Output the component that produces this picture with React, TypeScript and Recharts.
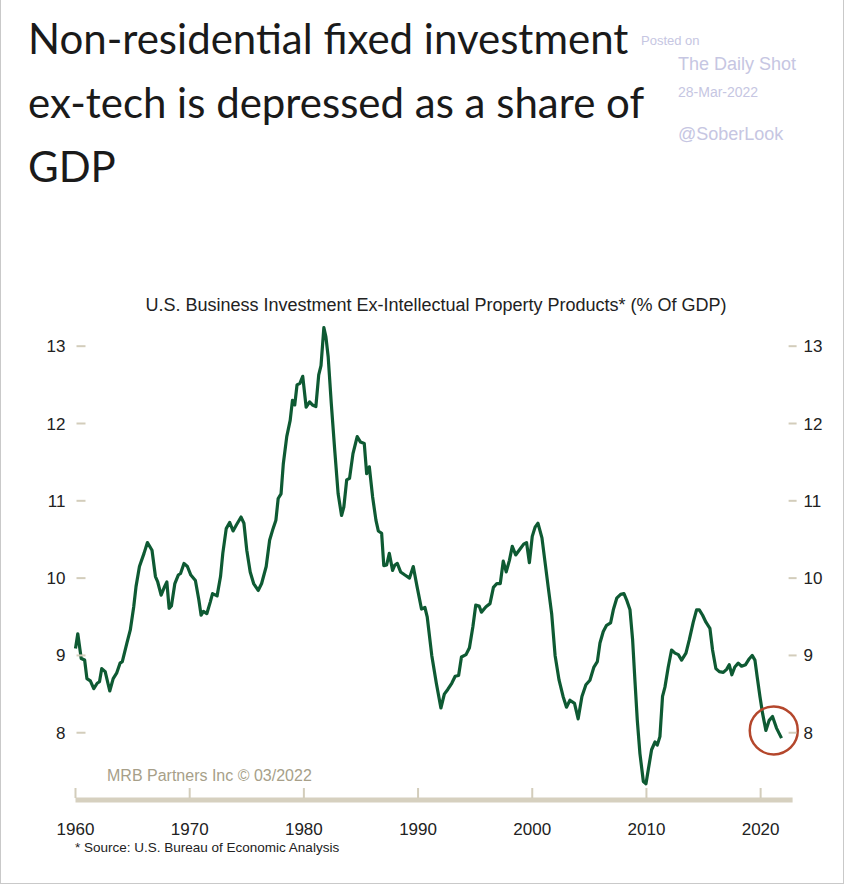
import React from "react";
import { LineChart, Line, XAxis, YAxis, ReferenceDot } from "recharts";

// U.S. business investment ex-IPP, % of GDP
const years = [
  1960.0, 1960.2, 1960.5, 1960.8, 1961.0, 1961.3, 1961.6, 1961.9,
  1962.1, 1962.3, 1962.6, 1963.0, 1963.3, 1963.6, 1963.9, 1964.1,
  1964.5, 1964.8, 1965.1, 1965.3, 1965.6, 1966.0, 1966.3, 1966.7,
  1967.0, 1967.2, 1967.5, 1967.8, 1968.0, 1968.2, 1968.4, 1968.7,
  1969.0, 1969.2, 1969.5, 1969.8, 1970.1, 1970.5, 1970.8, 1971.0,
  1971.2, 1971.5, 1971.8, 1972.0, 1972.4, 1972.7, 1972.9, 1973.2,
  1973.5, 1973.8, 1974.1, 1974.5, 1974.75, 1975.0, 1975.3, 1975.6,
  1976.0, 1976.3, 1976.7, 1977.0, 1977.3, 1977.55, 1977.75, 1978.0,
  1978.2, 1978.5, 1978.8, 1979.0, 1979.2, 1979.4, 1979.65, 1979.9,
  1980.2, 1980.5, 1980.75, 1981.05, 1981.3, 1981.5, 1981.75, 1981.93,
  1982.13, 1982.4, 1982.7, 1983.0, 1983.3, 1983.5, 1983.75, 1984.0,
  1984.3, 1984.67, 1984.96, 1985.29, 1985.5, 1985.73, 1986.02, 1986.31,
  1986.52, 1986.81, 1987.0, 1987.25, 1987.48, 1987.77, 1987.97, 1988.18,
  1988.47, 1988.85, 1989.25, 1989.58, 1989.9, 1990.3, 1990.6, 1990.8,
  1991.2, 1991.6, 1992.0, 1992.3, 1992.6, 1992.95, 1993.25, 1993.55,
  1993.8, 1994.2, 1994.5, 1994.8, 1995.05, 1995.35, 1995.55, 1995.95,
  1996.3, 1996.6, 1996.9, 1997.2, 1997.46, 1997.72, 1998.0, 1998.25,
  1998.55, 1998.9, 1999.25, 1999.5, 1999.75, 2000.0, 2000.25, 2000.5,
  2000.85, 2001.1, 2001.4, 2001.7, 2002.0, 2002.35, 2002.7, 2003.0,
  2003.3, 2003.7, 2004.02, 2004.35, 2004.7, 2005.05, 2005.4, 2005.7,
  2005.93, 2006.22, 2006.51, 2006.86, 2007.1, 2007.4, 2007.74, 2008.03,
  2008.26, 2008.56, 2008.79, 2008.99, 2009.2, 2009.43, 2009.73, 2009.96,
  2010.16, 2010.45, 2010.75, 2010.95, 2011.18, 2011.41, 2011.62, 2011.91,
  2012.2, 2012.5, 2012.79, 2013.08, 2013.46, 2013.75, 2014.1, 2014.39,
  2014.63, 2014.92, 2015.21, 2015.56, 2015.79, 2016.08, 2016.38, 2016.73,
  2017.02, 2017.25, 2017.48, 2017.74, 2018.04, 2018.33, 2018.68, 2018.97,
  2019.26, 2019.5, 2019.7, 2019.94, 2020.17, 2020.46, 2020.75, 2021.04,
  2021.39, 2021.83,
];

const shares = [
  9.09, 9.28, 8.96, 8.94, 8.70, 8.67, 8.57, 8.64,
  8.66, 8.83, 8.79, 8.54, 8.70, 8.77, 8.90, 8.92,
  9.16, 9.33, 9.63, 9.89, 10.15, 10.32, 10.46, 10.36,
  10.02, 9.95, 9.78, 9.89, 9.95, 9.61, 9.64, 9.93,
  10.04, 10.06, 10.19, 10.15, 10.04, 9.97, 9.72, 9.52,
  9.57, 9.54, 9.69, 9.80, 9.77, 10.02, 10.32, 10.64,
  10.72, 10.61, 10.69, 10.79, 10.71, 10.36, 10.08, 9.93,
  9.84, 9.93, 10.15, 10.49, 10.64, 10.75, 11.03, 11.09,
  11.48, 11.83, 12.04, 12.30, 12.24, 12.50, 12.52, 12.61,
  12.21, 12.28, 12.24, 12.22, 12.63, 12.75, 13.24, 13.12,
  12.86, 12.26, 11.66, 11.09, 10.81, 10.92, 11.27, 11.29,
  11.61, 11.83, 11.76, 11.74, 11.35, 11.44, 11.05, 10.75,
  10.61, 10.58, 10.16, 10.17, 10.32, 10.10, 10.17, 10.19,
  10.08, 10.04, 10.00, 10.15, 9.90, 9.60, 9.62, 9.50,
  9.00, 8.64, 8.32, 8.50, 8.56, 8.64, 8.73, 8.74,
  8.98, 9.01, 9.10, 9.37, 9.65, 9.64, 9.56, 9.63,
  9.67, 9.88, 9.93, 9.93, 10.22, 10.08, 10.23, 10.41,
  10.30, 10.37, 10.44, 10.46, 10.20, 10.54, 10.66, 10.71,
  10.52, 10.23, 9.88, 9.54, 9.00, 8.68, 8.47, 8.33,
  8.42, 8.38, 8.18, 8.47, 8.62, 8.68, 8.85, 8.92,
  9.16, 9.31, 9.39, 9.42, 9.59, 9.74, 9.79, 9.80,
  9.72, 9.59, 9.20, 8.68, 8.16, 7.73, 7.37, 7.34,
  7.52, 7.78, 7.88, 7.84, 7.95, 8.47, 8.59, 8.85,
  9.07, 9.03, 9.01, 8.94, 9.03, 9.20, 9.43, 9.59,
  9.59, 9.52, 9.43, 9.35, 9.07, 8.83, 8.79, 8.78,
  8.82, 8.88, 8.75, 8.85, 8.90, 8.86, 8.88, 8.95,
  9.00, 8.94, 8.72, 8.47, 8.25, 8.03, 8.16, 8.21,
  8.06, 7.93,
];

const xTicks = [1960, 1970, 1980, 1990, 2000, 2010, 2020];
const yTicks = [8, 9, 10, 11, 12, 13];

// latest reading, circled in the original
const latestYear = 2021.15;
const latestShare = 8.03;

const data = years.map((year, i) => ({ year, share: shares[i] }));

const FONT = "'Liberation Sans', Arial, sans-serif";
const TICK_COLOR = "#d3cdbb";

const LeftTick = ({ x, y, payload }: any) => (
  <g>
    <line x1={x + 1} x2={x + 10} y1={y} y2={y} stroke={TICK_COLOR} strokeWidth={2} />
    <text x={x - 10} y={y + 6} textAnchor="end" fontSize={17} fill="#222" fontFamily={FONT}>
      {payload.value}
    </text>
  </g>
);

const RightTick = ({ x, y, payload }: any) => (
  <g>
    <line x1={x - 4} x2={x + 4} y1={y} y2={y} stroke={TICK_COLOR} strokeWidth={2} />
    <text x={x + 11} y={y + 6} textAnchor="start" fontSize={17} fill="#222" fontFamily={FONT}>
      {payload.value}
    </text>
  </g>
);

const BottomTick = ({ x, y, payload }: any) => (
  <g>
    <line x1={x} x2={x} y1={y - 2} y2={y - 12} stroke={TICK_COLOR} strokeWidth={2} />
    <text x={x} y={y + 35} textAnchor="middle" fontSize={17} fill="#222" fontFamily={FONT}>
      {payload.value}
    </text>
  </g>
);

export default function App() {
  return (
    <div
      style={{
        position: "absolute",
        left: 0,
        top: 0,
        width: 846,
        height: 886,
        background: "#fff",
        fontFamily: FONT,
      }}
    >
      <div
        style={{
          position: "absolute",
          left: 0,
          top: -2,
          width: 842,
          height: 885,
          borderLeft: "1px solid #c9c9c9",
          borderRight: "1px solid #c9c9c9",
          borderBottom: "1px solid #c9c9c9",
        }}
      />

      <div
        style={{
          position: "absolute",
          left: 28,
          top: 6,
          fontFamily: "Lato, sans-serif",
          fontSize: 42,
          lineHeight: "64px",
          color: "#1a1a1a",
        }}
      >
        Non-residential fixed investment
        <br />
        ex-tech is depressed as a share of
        <br />
        GDP
      </div>

      <div style={{ position: "absolute", left: 641, top: 33, fontSize: 13, color: "#c6c6e2" }}>Posted on</div>
      <div style={{ position: "absolute", left: 678, top: 54, fontSize: 18, color: "#c6c6e2" }}>The Daily Shot</div>
      <div style={{ position: "absolute", left: 678, top: 84, fontSize: 14, color: "#c6c6e2" }}>28-Mar-2022</div>
      <div style={{ position: "absolute", left: 678, top: 124, fontSize: 18, color: "#c6c6e2" }}>@SoberLook</div>

      <div
        style={{
          position: "absolute",
          left: 86,
          width: 700,
          top: 294,
          textAlign: "center",
          fontSize: 18,
          lineHeight: "22px",
          color: "#222",
        }}
      >
        U.S. Business Investment Ex-Intellectual Property Products* (% Of GDP)
      </div>

      <div style={{ position: "absolute", left: 0, top: 0 }}>
        <LineChart
          width={846}
          height={886}
          data={data}
          margin={{ top: 323, right: 52.4, bottom: 85, left: 74.5 }}
        >
          <XAxis
            dataKey="year"
            type="number"
            domain={[1960, 2022.8]}
            ticks={xTicks}
            interval={0}
            height={1}
            tickSize={0}
            tickMargin={0}
            tickLine={false}
            axisLine={{ stroke: "#d6d0bf", strokeWidth: 5 }}
            tick={<BottomTick />}
          />
          <YAxis
            yAxisId="left"
            orientation="left"
            type="number"
            domain={[7.13, 13.3]}
            ticks={yTicks}
            interval={0}
            width={1}
            tickSize={0}
            tickMargin={0}
            tickLine={false}
            axisLine={false}
            tick={<LeftTick />}
          />
          <YAxis
            yAxisId="right"
            orientation="right"
            type="number"
            domain={[7.13, 13.3]}
            ticks={yTicks}
            interval={0}
            width={1}
            tickSize={0}
            tickMargin={0}
            tickLine={false}
            axisLine={false}
            tick={<RightTick />}
          />
          {/* same series bound to the right axis so its ticks get drawn; kept invisible */}
          <Line
            yAxisId="right"
            type="linear"
            dataKey="share"
            stroke="none"
            strokeWidth={0}
            dot={false}
            activeDot={false}
            isAnimationActive={false}
          />
          <Line
            yAxisId="left"
            type="linear"
            dataKey="share"
            stroke="#0e5a33"
            strokeWidth={3.2}
            strokeLinejoin="round"
            dot={false}
            isAnimationActive={false}
          />
          <ReferenceDot
            yAxisId="left"
            x={latestYear}
            y={latestShare}
            r={24}
            fill="none"
            stroke="#b4472c"
            strokeWidth={2.5}
          />
        </LineChart>
      </div>

      <div style={{ position: "absolute", left: 107, top: 766, fontSize: 16, lineHeight: "20px", color: "#a79f89" }}>
        MRB Partners Inc © 03/2022
      </div>
      <div style={{ position: "absolute", left: 75, top: 840, fontSize: 13.5, lineHeight: "16px", color: "#222" }}>
        * Source: U.S. Bureau of Economic Analysis
      </div>
    </div>
  );
}
